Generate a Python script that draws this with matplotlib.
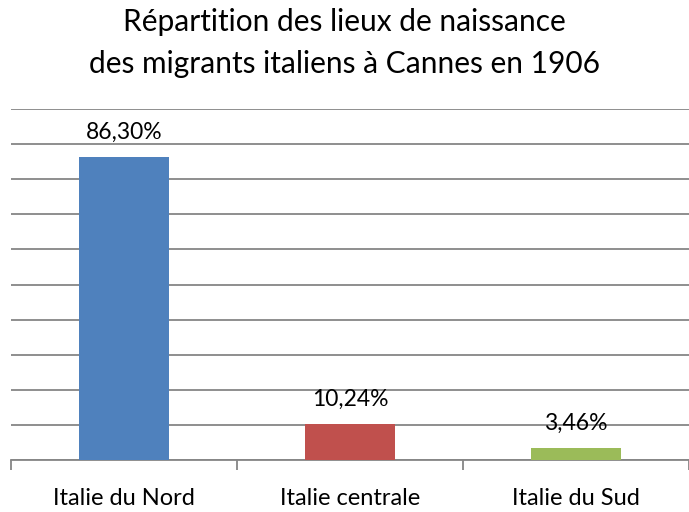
import matplotlib.pyplot as plt

# data
categories = ['Italie du Nord', 'Italie centrale', 'Italie du Sud']
values = [86.30, 10.24, 3.46]
labels = ['86,30%', '10,24%', '3,46%']
colors = ['#4F81BD', '#C0504D', '#9BBB59']

plt.rcParams['font.family'] = ['Lato', 'DejaVu Sans']

fig = plt.figure(figsize=(6.89, 5.12), dpi=100)
ax = fig.add_axes([11 / 689, 52 / 512, 678 / 689, 351 / 512])

x = range(len(categories))
ax.bar(x, values, width=0.4, color=colors, zorder=3)

for i, v in enumerate(values):
    ax.annotate(labels[i], (i, v), xytext=(0, 18), textcoords='offset points',
                ha='center', va='center', fontsize=16.5)

ax.set_xlim(-0.5, 2.5)
ax.set_ylim(0, 100)
ax.set_yticks(range(0, 101, 10))
ax.yaxis.grid(True, color='#868686', linewidth=1.3, zorder=0)
ax.tick_params(axis='y', left=False, labelleft=False)

# category ticks between groups
ax.set_xticks([-0.5, 0.5, 1.5, 2.5])
ax.set_xticklabels([])
ax.set_xticks(list(x), minor=True)
ax.set_xticklabels(categories, minor=True, fontsize=17)
ax.tick_params(axis='x', which='major', length=7, width=1.3, color='#868686')
ax.tick_params(axis='x', which='minor', length=0, pad=20)

for s in ['top', 'right', 'left']:
    ax.spines[s].set_visible(False)
ax.spines['bottom'].set_color('#868686')
ax.spines['bottom'].set_linewidth(1.3)

fig.text(0.5, 1 - 22 / 512, 'Répartition des lieux de naissance',
         ha='center', va='center', fontsize=21.5)
fig.text(0.5, 1 - 64 / 512, 'des migrants italiens à Cannes en 1906',
         ha='center', va='center', fontsize=21.5)

plt.savefig('out.png', dpi=100)
